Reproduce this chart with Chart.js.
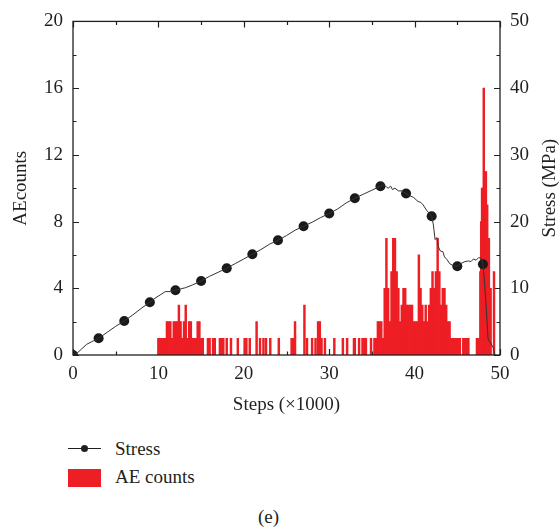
<!DOCTYPE html>
<html><head><meta charset="utf-8">
<script src="https://cdn.jsdelivr.net/npm/chart.js@4/dist/chart.umd.min.js"></script>
<style>
html,body{margin:0;padding:0;background:#fff;}
#wrap{position:relative;width:560px;height:529px;font-family:"Liberation Serif",serif;color:#231f20;overflow:hidden;}
#cw{position:absolute;left:0;top:0;width:560px;height:420px;}
.t{position:absolute;font-size:19px;line-height:20px;white-space:nowrap;}
</style></head><body>
<div id="wrap">
<div id="cw"><canvas id="c" width="560" height="420"></canvas></div>
<div style="position:absolute;left:68px;top:448px;width:33px;height:0;border-top:1.3px solid #231f20;"></div>
<div style="position:absolute;left:81px;top:445px;width:7px;height:7px;border-radius:50%;background:#231f20;"></div>
<div class="t" style="left:115px;top:439px;">Stress</div>
<div style="position:absolute;left:68px;top:469px;width:33px;height:18px;background:rgb(237,30,36);"></div>
<div class="t" style="left:115px;top:467px;">AE counts</div>
<div class="t" style="left:258px;top:507px;">(e)</div>
</div>
<script>
// ---- data ----
const xTicks = [0, 10, 20, 30, 40, 50];
const aeTicks = [0, 4, 8, 12, 16, 20];
const stressTicks = [0, 10, 20, 30, 40, 50];

// AE counts (steps in thousands)
const aeSteps = [
 10.0,10.2,10.4,10.6,10.8,11.0,11.2,11.4,11.6,11.8,12.0,12.2,12.4,12.6,12.8,13.0,13.2,13.4,13.6,13.8,14.0,14.2,14.4,14.6,14.8,15.0,15.2,
 15.8,16.0,16.4,16.6,17.2,17.4,17.6,18.0,18.5,19.3,20.1,20.3,20.7,21.5,21.9,22.3,22.6,23.1,24.1,25.6,25.8,26.0,27.1,27.4,28.0,28.4,28.7,28.9,29.1,29.5,30.6,31.6,32.1,32.9,33.0,33.5,33.9,34.1,34.3,34.9,35.3,
 35.5,35.7,35.9,36.1,36.3,36.5,36.7,36.9,37.1,37.3,37.5,37.7,37.9,38.1,38.3,38.5,38.7,38.9,39.1,39.3,39.5,39.7,39.9,40.1,40.3,40.5,40.7,40.9,41.1,41.3,41.5,41.7,41.9,42.1,42.3,42.5,42.7,42.9,43.1,43.3,43.5,43.7,43.9,44.1,44.3,
 44.5,44.7,44.9,45.1,45.3,45.7,45.9,46.1,46.3,
 47.3,47.5,47.7,47.8,47.9,48.0,48.1,48.25,48.35,48.5,48.6,48.7,48.9,49.3
];
const aeCounts = [
 1,1,1,1,1,2,2,2,1,2,2,2,3,2,1,2,3,1,2,2,1,1,1,2,2,1,1,
 1,1,1,1,1,1,1,1,1,1,1,1,1,2,1,1,1,1,1,1,1,2,3,1,1,1,2,2,1,1,1,1,1,1,1,1,1,1,1,1,1,
 1,2,2,2,1,4,7,4,2,5,7,7,5,4,2,3,4,4,3,3,3,3,2,2,2,6,4,3,2,3,2,3,4,5,4,5,7,5,3,4,4,3,2,2,1,
 1,1,1,1,1,1,1,1,1,
 1,1,5,8,10,10,16,11,11,9,7,7,4,5
];

// Stress curve (MPa)
const stressSteps = [
 0,0.5,1.0,1.6,2.2,3.0,4.0,5.0,6.0,7.0,8.0,9.0,9.6,10.2,10.8,11.4,12.0,12.6,13.2,14.0,15.0,16.0,17.0,18.0,19.0,20.0,21.0,22.0,23.0,24.0,25.0,26.0,27.0,28.0,29.0,30.0,31.0,32.0,33.0,34.0,35.0,36.0,
 36.4,36.7,36.9,37.2,37.4,37.7,38.1,38.5,39.0,39.4,39.9,40.4,40.7,41.0,41.4,42.0,42.2,42.4,42.6,42.8,43.0,43.3,43.5,43.8,44.1,44.5,45.0,45.4,45.9,46.3,46.6,46.9,47.2,47.5,47.8,48.0,48.2,48.4,48.6,48.9,49.2,49.4
];
const stressValues = [
 0,0.3,0.9,1.6,2.0,2.5,3.4,4.3,5.1,6.0,7.0,7.9,8.5,9.0,9.5,9.5,9.7,9.9,10.1,10.5,11.1,11.8,12.4,13.0,13.7,14.4,15.1,15.8,16.6,17.2,17.9,18.7,19.3,19.9,20.6,21.2,21.9,22.8,23.5,24.1,24.7,25.3,
 25.5,25.2,25.0,25.3,24.8,25.0,24.6,24.6,24.2,23.9,23.6,23.0,22.9,22.5,21.7,20.8,19.5,17.3,17.6,16.2,15.6,15.5,14.7,14.3,13.7,13.4,13.3,13.7,14.0,14.1,14.0,14.4,14.2,14.6,14.5,13.6,10.7,6.8,2.4,1.8,1.1,0
];
const markerSteps = [0,3,6,9,12,15,18,21,24,27,30,33,36,39,42,45,48];
const markerValues = [0,2.5,5.1,7.9,9.7,11.1,13.0,15.1,17.2,19.3,21.2,23.5,25.3,24.2,20.8,13.3,13.6];

// ---- chart ----
const INK = '#231f20';
const RED = 'rgb(237,30,36)';
const FONT = {family: "'Liberation Serif', serif", size: 19};

function minorsOf(arr){ const m=[]; for(let i=0;i<arr.length-1;i++) m.push((arr[i]+arr[i+1])/2); return m; }

const innerTicks = {
  id: 'innerTicks',
  beforeDatasetsDraw(chart){
    const {ctx, chartArea:a, scales} = chart;
    ctx.save(); ctx.strokeStyle = INK; ctx.lineWidth = 1.2; ctx.beginPath();
    const X = scales.x, L = scales.y, R = scales.y1;
    const tickH = (vals, len) => vals.forEach(v => { const p = Math.round(X.getPixelForValue(v))+0.5;
      ctx.moveTo(p, a.bottom); ctx.lineTo(p, a.bottom-len); ctx.moveTo(p, a.top); ctx.lineTo(p, a.top+len); });
    const tickL = (vals, len) => vals.forEach(v => { const p = Math.round(L.getPixelForValue(v))+0.5;
      ctx.moveTo(a.left, p); ctx.lineTo(a.left+len, p); });
    const tickR = (vals, len) => vals.forEach(v => { const p = Math.round(R.getPixelForValue(v))+0.5;
      ctx.moveTo(a.right, p); ctx.lineTo(a.right-len, p); });
    tickH(xTicks, 6); tickH(minorsOf(xTicks), 3.5);
    tickL(aeTicks, 6); tickL(minorsOf(aeTicks), 3.5);
    tickR(stressTicks, 6); tickR(minorsOf(stressTicks), 3.5);
    ctx.stroke(); ctx.restore();
  },
  afterDatasetsDraw(chart){
    const {ctx, chartArea:a} = chart;
    ctx.save(); ctx.strokeStyle = INK; ctx.lineWidth = 1.3;
    ctx.strokeRect(a.left, a.top, a.right-a.left, a.bottom-a.top);
    ctx.restore();
  },
  afterDraw(chart){
    const {ctx, chartArea:a} = chart;
    ctx.save();
    ctx.translate(550, (a.top + a.bottom) / 2);
    ctx.rotate(-Math.PI / 2);
    ctx.font = "19px 'Liberation Serif', serif";
    ctx.fillStyle = INK; ctx.textAlign = 'center'; ctx.textBaseline = 'middle';
    ctx.fillText('Stress (MPa)', 0, 0);
    ctx.restore();
  }
};

new Chart(document.getElementById('c'), {
  type: 'bar',
  data: {
    datasets: [
      { type:'line', label:'Stress', data: stressSteps.map((s,i)=>({x:s, y:stressValues[i]})), yAxisID:'y1',
        borderColor:'#333', borderWidth:1, pointRadius:0, tension:0, order:0 },
      { type:'line', label:'Stress markers', data: markerSteps.map((s,i)=>({x:s, y:markerValues[i]})), yAxisID:'y1',
        showLine:false, pointRadius:5, pointBackgroundColor:'#1a1a1a', pointBorderColor:'#1a1a1a', pointBorderWidth:0, order:0 },
      { type:'bar', label:'AE counts', data: aeSteps.map((s,i)=>({x:s, y:aeCounts[i]})), yAxisID:'y',
        backgroundColor: RED, borderWidth:0, barThickness:1.8, order:1 }
    ]
  },
  options: {
    responsive:false, animation:false, devicePixelRatio:1,
    layout:{ padding:{ top:16, left:0, right:0, bottom:0 } },
    plugins:{ legend:{display:false}, tooltip:{enabled:false} },
    scales:{
      x:{ type:'linear', position:'bottom', min:0, max:50, offset:false,
        afterBuildTicks(s){ s.ticks = xTicks.map(v=>({value:v})); },
        afterFit(s){ s.height = 65; },
        grid:{ display:false, drawTicks:false }, border:{ display:false },
        ticks:{ font:FONT, color:INK, padding:8, maxRotation:0, autoSkip:false },
        title:{ display:true, text:'Steps (×1000)', font:{...FONT, lineHeight:1}, color:INK, padding:{top:0,bottom:5} } },
      y:{ type:'linear', position:'left', min:0, max:20,
        afterBuildTicks(s){ s.ticks = aeTicks.map(v=>({value:v})); },
        afterFit(s){ s.width = 73; },
        grid:{ display:false, drawTicks:false }, border:{ display:false },
        ticks:{ font:FONT, color:INK, padding:10 },
        title:{ display:true, text:'AEcounts', font:{...FONT, lineHeight:1}, color:INK, padding:{top:12,bottom:0} } },
      y1:{ type:'linear', position:'right', min:0, max:50,
        afterBuildTicks(s){ s.ticks = stressTicks.map(v=>({value:v})); },
        afterFit(s){ s.width = 60; },
        grid:{ display:false, drawTicks:false }, border:{ display:false },
        ticks:{ font:FONT, color:INK, padding:10 },
        title:{ display:false } }
    }
  },
  plugins:[innerTicks]
});
</script>
</body></html>
